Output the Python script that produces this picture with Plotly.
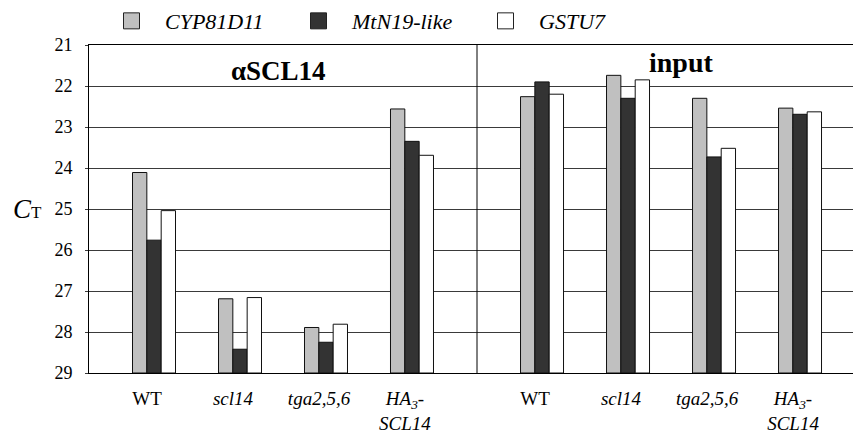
import plotly.graph_objects as go

genotypes = ["WT", "scl14", "tga2,5,6", "HA3-SCL14"]
tick_labels = ["WT", "<i>scl14</i>", "<i>tga2,5,6</i>", "<i>HA<sub>3</sub>-</i><br><i>SCL14</i>"]
series_names = ["CYP81D11", "MtN19-like", "GSTU7"]
series_colors = ["#c0c0c0", "#333333", "#ffffff"]

# Ct values, alphaSCL14 ChIP
scl14_cyp = [24.11, 27.19, 27.89, 22.56]
scl14_mtn = [25.76, 28.42, 28.25, 23.35]
scl14_gst = [25.04, 27.16, 27.81, 23.69]
# Ct values, input
input_cyp = [22.26, 21.74, 22.30, 22.54]
input_mtn = [21.90, 22.30, 23.73, 22.69]
input_gst = [22.20, 21.85, 23.52, 22.63]

y_bottom = 29
y_top = 21
y_ticks = [21, 22, 23, 24, 25, 26, 27, 28, 29]

FONT = "'Liberation Serif', 'Times New Roman', Times, serif"
fig = go.Figure()

panels = [
    ("x", [scl14_cyp, scl14_mtn, scl14_gst]),
    ("x2", [input_cyp, input_mtn, input_gst]),
]
for xa, vals in panels:
    for name, color, v in zip(series_names, series_colors, vals):
        fig.add_trace(go.Bar(
            x=genotypes, y=[val - y_bottom for val in v], base=[y_bottom] * len(v),
            xaxis=xa, yaxis="y", name=name, showlegend=False,
            marker=dict(color=color, line=dict(color="#111111", width=1)),
        ))

# legend entries
for name, color in zip(series_names, series_colors):
    fig.add_trace(go.Scatter(
        x=[None], y=[None], mode="markers", name="<i>" + name + "</i>", xaxis="x", yaxis="y",
        marker=dict(symbol="square", size=16, color=color, line=dict(color="#222222", width=1)),
    ))

d = 388 / 764
xcommon = dict(type="category", categoryorder="array", categoryarray=genotypes,
               tickmode="array", tickvals=genotypes, ticktext=tick_labels,
               showline=True, linecolor="black", linewidth=1, mirror=True,
               ticks="", showgrid=False, zeroline=False,
               tickfont=dict(family=FONT, size=19, color="black"),
               ticklabelstandoff=8, ticklabelshift=-7)

fig.update_layout(
    template="none",
    width=853, height=435,
    margin=dict(l=89, r=0, t=45, b=62, autoexpand=False),
    plot_bgcolor="white", paper_bgcolor="white",
    barmode="group", bargap=0.5, bargroupgap=0,
    font=dict(family=FONT, color="black"),
    xaxis=dict(domain=[0, d], range=[-0.756, 3.756], anchor="y", **xcommon),
    xaxis2=dict(domain=[d, 1], range=[-0.756, 3.616], anchor="y", **xcommon),
    yaxis=dict(range=[y_bottom, y_top], tickvals=y_ticks, ticktext=[str(t) for t in y_ticks],
               showgrid=True, gridcolor="#3a3a3a", gridwidth=1,
               showline=True, linecolor="black", linewidth=1,
               ticks="outside", ticklen=3, tickcolor="#3a3a3a",
               zeroline=False, ticklabelstandoff=9,
               tickfont=dict(family=FONT, size=18, color="black")),
    legend=dict(orientation="h", x=0.0118, xanchor="left", y=1.073, yanchor="middle",
                font=dict(family=FONT, size=22, color="black"),
                itemwidth=57, entrywidth=115, entrywidthmode="pixels",
                bgcolor="rgba(0,0,0,0)"),
    shapes=[dict(type="line", xref="paper", yref="paper", x0=d, x1=d, y0=0, y1=1,
                 line=dict(color="black", width=1))],
    annotations=[
        dict(text="<b>αSCL14</b>", xref="paper", yref="paper", x=(278 - 89) / 764, y=0.921,
             xanchor="center", yanchor="middle", showarrow=False,
             font=dict(family=FONT, size=27, color="black")),
        dict(text="<b>input</b>", xref="paper", yref="paper", x=(681 - 89) / 764, y=0.947,
             xanchor="center", yanchor="middle", showarrow=False,
             font=dict(family=FONT, size=28, color="black")),
        dict(text="<i>C</i><span style='font-size:17px'>T</span>", xref="paper", yref="y",
             x=(11 - 89) / 764, y=25, xanchor="left", yanchor="middle", showarrow=False,
             font=dict(family=FONT, size=27, color="black")),
    ],
)

fig.write_html("out.html", config={"displayModeBar": False},
               post_script="document.body.style.margin='0';")
